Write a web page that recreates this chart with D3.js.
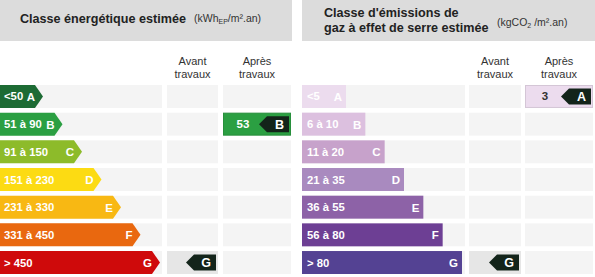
<!DOCTYPE html>
<html><head><meta charset="utf-8">
<script src="https://cdn.jsdelivr.net/npm/d3@7"></script>
<style>html,body{margin:0;padding:0;background:#fff;}svg{display:block;font-family:"Liberation Sans",Arial,sans-serif;}</style>
</head><body>
<svg id="c" width="595" height="277"></svg>
<script>
const classes = ["A","B","C","D","E","F","G"];
const energyRanges = ["<50","51 à 90","91 à 150","151 à 230","231 à 330","331 à 450","> 450"];
const energyColors = ["#1d6b34","#2b9f42","#8dbb2a","#fcdb13","#f8b813","#e9680f","#cf0a0b"];
const gesRanges = ["<5","6 à 10","11 à 20","21 à 35","36 à 55","56 à 80","> 80"];
const gesColors = ["#ecdcee","#dcc0df","#c7a2cb","#a98abf","#8d62a7","#6d3f94","#544293"];
const energyAvant = {cls:"G", value:null};
const energyApres = {cls:"B", value:53};
const gesAvant = {cls:"G", value:null};
const gesApres = {cls:"A", value:3};

const svg = d3.select("#c");
const y = d3.scaleBand().domain(classes).range([85, 274]).paddingInner(0.17).paddingOuter(0);
const bh = y.bandwidth();
const idx = d3.scaleOrdinal().domain(classes).range(d3.range(classes.length));

function panel(cfg){
  const g = svg.append("g");
  g.append("rect").attr("x",cfg.hx0).attr("y",0).attr("width",cfg.hx1-cfg.hx0).attr("height",41).attr("fill","#dcdcdc");
  cfg.title.forEach((t,i)=>{
    g.append("text").attr("x",cfg.tx).attr("y",cfg.ty[i]).attr("font-size",12.6).attr("font-weight","bold").attr("fill","#222").text(t);
  });
  const u = g.append("text").attr("x",cfg.ux).attr("y",cfg.uy).attr("font-size",10.5).attr("fill","#333");
  cfg.unit(u);
  [["Avant","travaux",cfg.c1],["Après","travaux",cfg.c2]].forEach(([a,b,c])=>{
    const cx=(c[0]+c[1])/2;
    g.append("text").attr("x",cx).attr("y",65).attr("text-anchor","middle").attr("font-size",11).attr("fill","#333").text(a);
    g.append("text").attr("x",cx).attr("y",78).attr("text-anchor","middle").attr("font-size",11).attr("fill","#333").text(b);
  });
  classes.forEach(k=>{
    g.append("rect").attr("x",cfg.r[0]).attr("y",y(k)).attr("width",cfg.r[1]-cfg.r[0]).attr("height",bh).attr("fill","#f4f4f4");
    g.append("rect").attr("x",cfg.c1[0]).attr("y",y(k)).attr("width",cfg.c1[1]-cfg.c1[0]).attr("height",bh).attr("fill","#f4f4f4");
    g.append("rect").attr("x",cfg.c2[0]).attr("y",y(k)).attr("width",cfg.c2[1]-cfg.c2[0]).attr("height",bh).attr("fill","#f4f4f4");
  });
  const xEnd = d3.scaleLinear().domain([0,6]).range(cfg.ends);
  classes.forEach((k,i)=>{
    const x0=cfg.r[0], x1=xEnd(idx(k)), yt=y(k), yb=yt+bh;
    if(cfg.arrow){
      const tip=8;
      g.append("path").attr("d",`M${x0},${yt}L${x1-tip},${yt}L${x1},${yt+bh/2}L${x1-tip},${yb}L${x0},${yb}Z`).attr("fill",cfg.colors[i]);
    } else {
      g.append("rect").attr("x",x0).attr("y",yt).attr("width",x1-x0).attr("height",bh).attr("fill",cfg.colors[i]);
    }
    g.append("text").attr("x",x0+cfg.lpad).attr("y",yt+bh/2+4).attr("font-size",11.3).attr("font-weight","bold").attr("fill","#fff").text(cfg.ranges[i]);
    g.append("text").attr("x",x1-cfg.kpad).attr("y",yt+bh/2+4.5).attr("text-anchor","end").attr("font-size",11.5).attr("font-weight","bold").attr("fill","#fff").text(k);
  });
  function marker(m,col){
    const i=idx(m.cls), yt=y(m.cls);
    const fill = m.value==null ? "#e6e6e6" : cfg.colors[i];
    g.append("rect").attr("x",col[0]+0.5).attr("y",yt+0.5).attr("width",col[1]-col[0]-1).attr("height",bh-1)
      .attr("fill",fill).attr("stroke",m.value==null?"#e6e6e6":d3.color(cfg.colors[i]).darker(0.3)).attr("stroke-width",1);
    const tx1=col[1]-2, tx0=tx1-30, t0=yt+3.5, t1=yt+bh-3.5;
    g.append("path").attr("d",`M${tx1},${t0}L${tx0+8},${t0}L${tx0},${(t0+t1)/2}L${tx0+8},${t1}L${tx1},${t1}Z`).attr("fill","#13241a");
    g.append("text").attr("x",tx1-5).attr("y",yt+bh/2+4.5).attr("text-anchor","end").attr("font-size",12.5).attr("font-weight","bold").attr("fill","#fff").text(m.cls);
    if(m.value!=null){
      g.append("text").attr("x",col[0]+20).attr("y",yt+bh/2+4).attr("text-anchor","middle").attr("font-size",11.5).attr("font-weight","bold")
        .attr("fill", cfg.arrow? "#fff":"#333").text(m.value);
    }
  }
  marker(cfg.avant,cfg.c1);
  marker(cfg.apres,cfg.c2);
}

panel({hx0:0,hx1:292,title:["Classe énergétique estimée"],tx:20,ty:[23],ux:194,uy:22,
  unit:t=>{t.append("tspan").text("(kWh");t.append("tspan").attr("font-size",7).attr("dy",2).text("EP");t.append("tspan").attr("dy",-2).text("/m².an)");},
  r:[0,162],c1:[167,218],c2:[223,291],ends:[43,160],arrow:true,colors:energyColors,ranges:energyRanges,lpad:4,kpad:8,
  avant:energyAvant,apres:energyApres});
panel({hx0:302,hx1:595,title:["Classe d'émissions de","gaz à effet de serre estimée"],tx:324,ty:[17,32],ux:497,uy:26,
  unit:t=>{t.append("tspan").text("(kgCO");t.append("tspan").attr("font-size",7).attr("dy",2).text("2");t.append("tspan").attr("dy",-2).text(" /m².an)");},
  r:[302,465],c1:[469,521],c2:[525,593],ends:[346,462],arrow:false,colors:gesColors,ranges:gesRanges,lpad:5,kpad:4,
  avant:gesAvant,apres:gesApres});
</script>
</body></html>
